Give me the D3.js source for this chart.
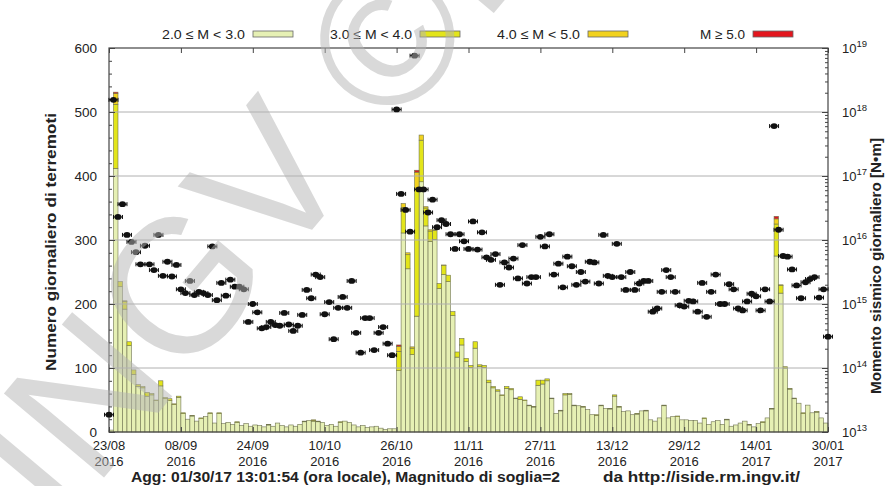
<!DOCTYPE html>
<html>
<head>
<meta charset="utf-8">
<script src="https://cdn.jsdelivr.net/npm/d3@7"></script>
<style>
  body { margin: 0; background: #fff; }
  svg { display: block; font-family: "Liberation Sans", Arial, Helvetica, sans-serif; }
</style>
</head>
<body>
<svg id="chart" width="889" height="486"></svg>
<script>
// daily counts, one value per day starting 23/08/2016
var startDay = "2016-08-23";
var endDay = "2017-01-30";

// total number of events per day (M >= 2.0)
var totals = [
  3, 531, 235, 205, 141, 97, 74, 71, 62, 60,
  50, 80, 54, 52, 44, 56, 30, 20, 26, 17,
  22, 24, 30, 14, 30, 13, 15, 12, 16, 10,
  13, 9, 11, 10, 8, 12, 9, 14, 10, 8,
  11, 9, 12, 17, 18, 19, 17, 15, 10, 12,
  9, 16, 17, 15, 11, 8, 10, 7, 8, 9,
  6, 4, 5, 5, 136, 357, 280, 133, 409, 464,
  352, 316, 316, 232, 261, 245, 188, 125, 146, 115,
  104, 141, 105, 104, 81, 71, 66, 58, 71, 68,
  53, 55, 50, 42, 40, 81, 81, 83, 53, 29,
  34, 60, 60, 42, 41, 40, 35, 27, 27, 42,
  37, 37, 58, 40, 32, 33, 27, 29, 33, 34,
  19, 17, 22, 42, 22, 24, 25, 19, 19, 18,
  18, 14, 22, 12, 16, 18, 12, 20, 9, 11,
  14, 17, 12, 8, 13, 16, 22, 37, 337, 230,
  102, 68, 53, 45, 30, 42, 30, 32, 22, 14
];

// 3.0 <= M < 4.0
var m3 = [
  0, 100, 8, 12, 6, 7, 3, 2, 6, 2,
  1, 8, 2, 3, 1, 2, 1, 0, 1, 0,
  1, 0, 1, 0, 1, 0, 0, 0, 1, 0,
  0, 0, 0, 0, 0, 1, 0, 0, 0, 0,
  0, 0, 0, 1, 0, 1, 1, 0, 0, 0,
  0, 1, 0, 0, 0, 0, 0, 0, 0, 0,
  0, 0, 0, 0, 30, 40, 22, 10, 200, 65,
  28, 16, 14, 8, 14, 10, 6, 8, 10, 5,
  3, 10, 3, 3, 4, 2, 2, 1, 3, 2,
  1, 4, 1, 1, 1, 8, 6, 3, 1, 0,
  1, 2, 1, 1, 0, 1, 0, 0, 1, 1,
  0, 1, 2, 1, 0, 0, 0, 1, 0, 1,
  0, 0, 0, 1, 0, 0, 1, 0, 0, 0,
  0, 0, 1, 0, 0, 0, 0, 1, 0, 0,
  0, 0, 1, 0, 0, 1, 0, 1, 50, 12,
  2, 1, 1, 0, 1, 0, 0, 1, 0, 0
];

// 4.0 <= M < 5.0
var m4 = [
  0, 17, 0, 1, 0, 0, 0, 0, 0, 0,
  0, 0, 0, 0, 0, 0, 0, 0, 0, 0,
  0, 0, 0, 0, 0, 0, 0, 0, 0, 0,
  0, 0, 0, 0, 0, 0, 0, 0, 0, 0,
  0, 0, 0, 0, 0, 1, 0, 0, 0, 0,
  0, 0, 0, 0, 0, 0, 0, 0, 0, 0,
  0, 0, 0, 0, 8, 6, 3, 2, 25, 8,
  2, 2, 1, 0, 1, 0, 0, 0, 0, 0,
  0, 0, 0, 0, 0, 0, 0, 0, 0, 0,
  0, 0, 0, 0, 0, 0, 0, 0, 0, 0,
  0, 0, 0, 0, 0, 0, 0, 0, 0, 0,
  0, 0, 0, 0, 0, 0, 0, 0, 0, 0,
  0, 0, 0, 0, 0, 0, 0, 0, 0, 0,
  0, 0, 0, 0, 0, 0, 0, 0, 0, 0,
  0, 0, 0, 0, 0, 0, 0, 0, 8, 1,
  0, 0, 0, 0, 0, 0, 0, 0, 0, 0
];

// M >= 5.0
var m5 = [
  0, 2, 0, 0, 0, 0, 0, 0, 0, 0,
  0, 0, 0, 0, 0, 0, 0, 0, 0, 0,
  0, 0, 0, 0, 0, 0, 0, 0, 0, 0,
  0, 0, 0, 0, 0, 0, 0, 0, 0, 0,
  0, 0, 0, 0, 0, 0, 0, 0, 0, 0,
  0, 0, 0, 0, 0, 0, 0, 0, 0, 0,
  0, 0, 0, 0, 2, 0, 0, 0, 3, 0,
  0, 0, 0, 0, 0, 0, 0, 0, 0, 0,
  0, 0, 0, 0, 0, 0, 0, 0, 0, 0,
  0, 0, 0, 0, 0, 0, 0, 0, 0, 0,
  0, 0, 0, 0, 0, 0, 0, 0, 0, 0,
  0, 0, 0, 0, 0, 0, 0, 0, 0, 0,
  0, 0, 0, 0, 0, 0, 0, 0, 0, 0,
  0, 0, 0, 0, 0, 0, 0, 0, 0, 0,
  0, 0, 0, 0, 0, 0, 0, 0, 4, 0,
  0, 0, 0, 0, 0, 0, 0, 0, 0, 0
];

// log10 of the daily seismic moment [N*m], 23/08/2016 .. 30/01/2017
var momentLog10 = [
  13.27, 18.19, 16.36, 16.56, 16.08, 15.97, 15.81, 15.62, 15.91, 15.62,
  15.53, 16.08, 15.44, 15.66, 15.43, 15.61, 15.23, 15.17, 15.36, 15.14,
  15.19, 15.17, 15.14, 15.90, 15.06, 15.33, 15.13, 15.38, 15.27, 15.27,
  15.23, 14.72, 15.00, 14.87, 14.62, 14.64, 14.72, 14.67, 14.66, 14.86,
  14.68, 14.58, 14.66, 14.83, 15.22, 15.09, 15.46, 15.42, 14.84, 15.03,
  14.45, 14.94, 15.11, 14.94, 15.36, 14.55, 14.24, 14.78, 14.78, 14.28,
  14.55, 14.64, 14.38, 14.20, 18.04, 16.72, 16.47, 16.13, 18.88, 16.79,
  16.79, 16.43, 16.63, 16.20, 16.31, 16.25, 16.09, 15.86, 16.09, 15.98,
  15.86, 16.29, 15.85, 16.12, 15.73, 15.69, 15.78, 15.30, 15.65, 15.57,
  15.71, 15.40, 15.92, 15.32, 15.42, 15.42, 16.05, 15.90, 16.09, 15.46,
  15.63, 15.26, 15.74, 15.59, 15.30, 15.50, 15.35, 15.66, 15.65, 15.32,
  16.08, 15.44, 15.42, 15.94, 15.42, 15.22, 15.50, 15.22, 15.32, 15.36,
  15.36, 14.88, 14.93, 15.19, 15.53, 15.42, 15.19, 14.98, 14.96, 15.05,
  15.04, 14.88, 15.33, 14.80, 15.19, 15.46, 15.00, 15.00, 15.31, 15.23,
  14.93, 14.90, 15.04, 15.16, 15.12, 14.90, 15.23, 15.04, 17.78, 16.16,
  15.75, 15.74, 15.54, 15.29, 15.09, 15.34, 15.39, 15.42, 15.10, 15.23, 14.49
];

var tickDays = ["2016-08-23", "2016-09-08", "2016-09-24", "2016-10-10", "2016-10-26", "2016-11-11",
                "2016-11-27", "2016-12-13", "2016-12-29", "2017-01-14", "2017-01-30"];
var countTicks = [0, 100, 200, 300, 400, 500, 600];
var momentTicks = [1e13, 1e14, 1e15, 1e16, 1e17, 1e18, 1e19];

var classLabels = ["2.0 \u2264 M < 3.0", "3.0 \u2264 M < 4.0", "4.0 \u2264 M < 5.0", "M \u2265 5.0"];
var classColors = ["#e6f0b4", "#e3e51a", "#f2d21e", "#e3161e"];

var svg = d3.select("#chart");
var plotL = 109, plotR = 828, plotT = 48, plotB = 432;
var parse = d3.utcParse("%Y-%m-%d");
var fmtDay = d3.utcFormat("%d/%m"), fmtYear = d3.utcFormat("%Y");

var x = d3.scaleUtc().domain([parse(startDay), parse(endDay)]).range([plotL, plotR]);
var y = d3.scaleLinear().domain([0, 600]).range([plotB, plotT]);
var y2 = d3.scaleLog().domain([1e13, 1e19]).range([plotB, plotT]);

var t0 = parse(startDay);
var rows = totals.map(function(t, i) {
    return {day: d3.utcDay.offset(t0, i), m2: t - m3[i] - m4[i] - m5[i], m3: m3[i], m4: m4[i], m5: m5[i]};
});
var stack = d3.stack().keys(["m2", "m3", "m4", "m5"])(rows);

// bars
var bars = svg.append("g");
stack.forEach(function(layer, k) {
    bars.selectAll(null)
        .data(layer.filter(function(d) { return d[1] > d[0]; }))
        .enter().append("rect")
        .attr("x", function(d) { return x(d.data.day); })
        .attr("width", function(d) { return x(d3.utcDay.offset(d.data.day, 1)) - x(d.data.day); })
        .attr("y", function(d) { return y(d[1]); })
        .attr("height", function(d) { return y(d[0]) - y(d[1]); })
        .attr("fill", classColors[k])
        .attr("stroke", "#6e7250")
        .attr("stroke-width", 0.6);
});

// grid
svg.append("g").selectAll("line")
    .data(countTicks.slice(1, -1))
    .enter().append("line")
    .attr("x1", plotL).attr("x2", plotR)
    .attr("y1", function(d) { return y(d); })
    .attr("y2", function(d) { return y(d); })
    .attr("stroke", "#b0b0b0")
    .attr("stroke-width", 1);

// axes
var tickDates = tickDays.map(parse);
var axB = svg.append("g").attr("transform", "translate(0," + plotB + ")")
    .call(d3.axisBottom(x).tickValues(tickDates).tickSize(-5).tickFormat(""));
var axT = svg.append("g").attr("transform", "translate(0," + plotT + ")")
    .call(d3.axisTop(x).tickValues(tickDates).tickSize(-5).tickFormat(""));
var axL = svg.append("g").attr("transform", "translate(" + plotL + ",0)")
    .call(d3.axisLeft(y).tickValues(d3.range(0, 601, 20)).tickSize(-3).tickFormat(""));
var axR = svg.append("g").attr("transform", "translate(" + plotR + ",0)")
    .call(d3.axisRight(y2).tickSize(-3).tickFormat(""));
axL.selectAll(".tick line").filter(function(d) { return d % 100 === 0; }).attr("x2", 6);
axR.selectAll(".tick line").filter(function(d) { return momentTicks.indexOf(d) >= 0; }).attr("x2", -6);
[axB, axT, axL, axR].forEach(function(a) {
    a.selectAll(".domain").remove();
    a.selectAll("line").attr("stroke", "#444");
});
svg.append("rect").attr("x", plotL).attr("y", plotT)
    .attr("width", plotR - plotL).attr("height", plotB - plotT)
    .attr("fill", "none").attr("stroke", "#444").attr("stroke-width", 1.2);

// tick labels
var lab = svg.append("g").attr("font-size", 13).attr("fill", "#222");
tickDates.forEach(function(d) {
    var t = lab.append("text").attr("text-anchor", "middle").attr("x", x(d));
    t.append("tspan").attr("x", x(d)).attr("y", 450).text(fmtDay(d));
    t.append("tspan").attr("x", x(d)).attr("y", 466).text(fmtYear(d));
});
countTicks.forEach(function(v) {
    lab.append("text").attr("text-anchor", "end").attr("x", 97).attr("y", y(v) + 4.5)
        .attr("font-size", 13.5).text(v);
});
momentTicks.forEach(function(v) {
    var t = lab.append("text").attr("x", 842).attr("y", y2(v) + 5);
    t.append("tspan").text("10");
    t.append("tspan").attr("dy", -6).attr("font-size", 9.5).text(Math.round(Math.log10(v)));
});

// axis titles
svg.append("text").attr("transform", "translate(56,242) rotate(-90)")
    .attr("text-anchor", "middle").attr("font-size", 14.5).attr("font-weight", "bold").attr("fill", "#222")
    .attr("textLength", 258).attr("lengthAdjust", "spacingAndGlyphs")
    .text("Numero giornaliero di terremoti");
svg.append("text").attr("transform", "translate(881,266) rotate(-90)")
    .attr("text-anchor", "middle").attr("font-size", 14).attr("font-weight", "bold").attr("fill", "#222")
    .attr("textLength", 256).attr("lengthAdjust", "spacingAndGlyphs")
    .text("Momento sismico giornaliero [N\u2022m]");
svg.append("text").attr("x", 131).attr("y", 482).attr("font-size", 14).attr("font-weight", "bold").attr("fill", "#222")
    .attr("textLength", 429).attr("lengthAdjust", "spacingAndGlyphs")
    .text("Agg: 01/30/17 13:01:54 (ora locale), Magnitudo di soglia=2");
svg.append("text").attr("x", 603).attr("y", 482).attr("font-size", 14).attr("font-weight", "bold").attr("fill", "#222")
    .attr("textLength", 197).attr("lengthAdjust", "spacingAndGlyphs")
    .text("da http://iside.rm.ingv.it/");

// legend
var legX = [162, 330, 497, 700];
var legW = [83, 82, 83, 45];
classLabels.forEach(function(l, k) {
    svg.append("text").attr("x", legX[k]).attr("y", 39)
        .attr("font-size", 13.5).attr("fill", "#222")
        .attr("textLength", legW[k]).attr("lengthAdjust", "spacingAndGlyphs").text(l);
    svg.append("rect").attr("x", legX[k] + legW[k] + 8).attr("y", 31).attr("width", 40).attr("height", 6)
        .attr("fill", classColors[k]).attr("stroke", "#666").attr("stroke-width", 0.8);
});

// seismic moment points
var pts = svg.append("g");
var hw = x(d3.utcDay.offset(t0, 1)) - x(t0);
momentLog10.forEach(function(v, i) {
    var d = d3.utcDay.offset(t0, i);
    var cx = x(d), cy = y2(Math.pow(10, v));
    pts.append("line").attr("x1", cx - hw).attr("x2", cx + hw).attr("y1", cy).attr("y2", cy)
        .attr("stroke", "#111").attr("stroke-width", 1);
    pts.append("line").attr("x1", cx - hw).attr("x2", cx - hw).attr("y1", cy - 2).attr("y2", cy + 2)
        .attr("stroke", "#111").attr("stroke-width", 1);
    pts.append("line").attr("x1", cx + hw).attr("x2", cx + hw).attr("y1", cy - 2).attr("y2", cy + 2)
        .attr("stroke", "#111").attr("stroke-width", 1);
    pts.append("ellipse").attr("cx", cx).attr("cy", cy).attr("rx", 3.5).attr("ry", 2.9).attr("fill", "#111");
});

// watermark
svg.append("text").attr("transform", "translate(60,530) rotate(-50)")
    .attr("font-size", 190).attr("fill", "#b4b4b4").attr("opacity", 0.5)
    .text("INGV \u00a9IN");
</script>
</body>
</html>
